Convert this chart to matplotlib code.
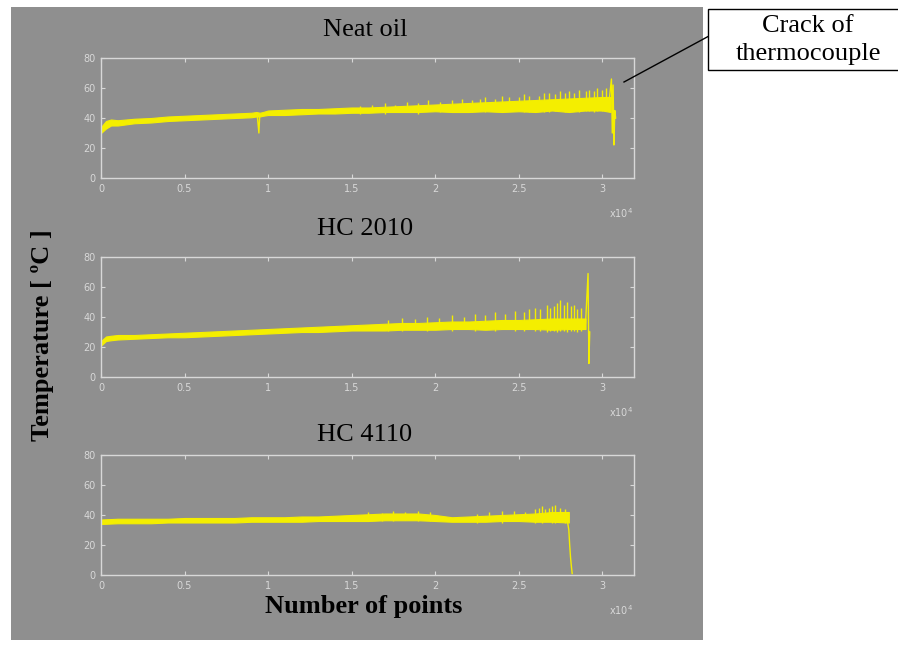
import matplotlib
matplotlib.use("Agg")
import matplotlib.pyplot as plt
from matplotlib.patches import Rectangle
from matplotlib.lines import Line2D

# x values are in units of 10^4 points
titles = ["Neat oil", "HC 2010", "HC 4110"]
xticks = [0, 0.5, 1, 1.5, 2, 2.5, 3]
xticklabels = ["0", "0.5", "1", "1.5", "2", "2.5", "3"]
yticks = [0, 20, 40, 60, 80]

# Neat oil: core band
x1 = [0, 0.03, 0.06, 0.1, 0.2, 0.3, 0.4, 0.5, 0.6, 0.7, 0.8, 0.9, 0.93, 0.95, 0.97,
      1.0, 1.1, 1.2, 1.3, 1.4, 1.5, 1.6, 1.7, 1.8, 1.9, 2.0, 2.1, 2.2, 2.3, 2.4,
      2.5, 2.6, 2.7, 2.8, 2.9, 3.0, 3.05]
lo1 = [30, 33, 35, 35, 36.5, 37, 38, 38.5, 39, 39.5, 40, 40.5, 41, 41, 41.5,
       42, 42, 42.5, 43, 43, 43.5, 43.5, 44, 44, 44, 44.5, 44, 44, 44.5, 44,
       44.5, 44, 45, 44, 45, 45, 44]
hi1 = [34, 38, 39, 38.5, 39.5, 40, 41, 41.5, 42, 42.5, 43, 43.5, 44, 43.5, 44,
       45, 45.5, 46, 46, 46.5, 47, 47, 47.5, 48, 48.5, 49, 49.5, 50, 50.5, 51,
       51.5, 52, 52.5, 53, 53.5, 54, 54]
hair_x1 = [1.55, 1.62, 1.7, 1.76, 1.83, 1.9, 1.96, 2.03, 2.1, 2.16, 2.22, 2.27,
           2.3, 2.36, 2.4, 2.44, 2.5, 2.53, 2.56, 2.62, 2.65, 2.68, 2.72, 2.75,
           2.78, 2.8, 2.83, 2.86, 2.9, 2.92, 2.95, 2.97, 3.0, 3.02]
hair_lo1 = [43, 44, 43, 44, 44, 43, 45, 44, 44, 45, 44, 45,
            44, 45, 44, 45, 45, 44, 44, 45, 44, 44, 45, 45,
            44, 45, 45, 44, 45, 45, 44, 45, 45, 45]
hair_top1 = [48, 49, 50, 49, 51, 50, 52, 51, 52, 53, 52, 53,
             54, 53, 55, 54, 54, 56, 55, 55, 57, 57, 56, 58,
             57, 58, 57, 59, 58, 59, 58, 60, 59, 60]
dip_x1 = [0.935, 0.945, 0.95]
dip_y1 = [42, 30, 42]
end_x1 = [3.04, 3.055, 3.06, 3.065, 3.07, 3.075, 3.08]
end_y1 = [50, 66, 30, 62, 22, 45, 40]

# HC 2010
x2 = [0, 0.03, 0.06, 0.1, 0.2, 0.3, 0.4, 0.5, 0.6, 0.7, 0.8, 0.9, 1.0, 1.1, 1.2, 1.3,
      1.4, 1.5, 1.6, 1.7, 1.8, 1.9, 2.0, 2.1, 2.2, 2.3, 2.4, 2.5, 2.6, 2.7, 2.8, 2.9]
lo2 = [21, 24, 24.5, 25, 25.5, 26, 26.5, 26.5, 27, 27.5, 28, 28.5, 29, 29.5, 30, 30,
       30.5, 31, 31, 31, 31.5, 31.5, 31.5, 32, 32, 31.5, 32, 32, 32, 31.5, 32, 32]
hi2 = [24, 27, 27.5, 28, 28, 28.5, 29, 29.5, 30, 30.5, 31, 31.5, 32, 32.5, 33, 33.5,
       34, 34.5, 35, 35.5, 36, 36, 36.5, 37, 37, 37.5, 38, 38, 38.5, 39, 39, 39]
hair_x2 = [1.72, 1.8, 1.88, 1.95, 2.02, 2.1, 2.17, 2.24, 2.3, 2.36, 2.42, 2.48,
           2.53, 2.56, 2.6, 2.63, 2.67, 2.69, 2.71, 2.73, 2.75, 2.77, 2.79,
           2.81, 2.83, 2.85, 2.87]
hair_lo2 = [31, 31, 32, 31, 32, 31, 32, 31, 32, 31, 32, 31,
            31, 32, 31, 31, 30, 31, 31, 30, 31, 31, 30, 31, 31, 30, 31]
hair_top2 = [38, 39, 38.5, 40, 39, 41, 40, 42, 41, 43, 42, 44,
             43, 45, 46, 45, 48, 46, 47, 49, 51, 48, 50, 47, 48, 45, 46]
end_x2 = [2.9, 2.915, 2.92, 2.925]
end_y2 = [36, 69, 9, 30]

# HC 4110
x3 = [0, 0.1, 0.2, 0.3, 0.4, 0.5, 0.6, 0.7, 0.8, 0.9, 1.0, 1.1, 1.2, 1.3, 1.4,
      1.5, 1.6, 1.7, 1.8, 1.9, 2.0, 2.1, 2.2, 2.3, 2.4, 2.5, 2.6, 2.7, 2.8]
lo3 = [34, 34.5, 34.5, 34.5, 35, 35, 35, 35, 35, 35.5, 35.5, 35.5, 35.5, 36, 36,
       36, 36, 36.5, 36.5, 36.5, 36, 35.5, 35.5, 35.5, 36, 36, 35.5, 35.5, 35]
hi3 = [37, 37.5, 37.5, 37.5, 37.5, 38, 38, 38, 38, 38.5, 38.5, 38.5, 39, 39, 39.5,
       40, 40.5, 41, 41, 41, 40, 38.5, 39, 39.5, 40, 40.5, 41, 42, 42]
hair_x3 = [1.6, 1.68, 1.75, 1.82, 1.9, 1.97, 2.25, 2.32, 2.4, 2.47, 2.54, 2.6,
           2.62, 2.64, 2.66, 2.68, 2.7, 2.72, 2.75, 2.78]
hair_lo3 = [36, 36, 36, 37, 36, 36, 35, 36, 35, 36, 36, 35, 36, 35, 36, 36,
            35, 35, 36, 35]
hair_top3 = [42, 41.5, 42.5, 42, 43, 42, 41, 42, 42.5, 43, 42, 44, 45, 46,
             44, 45, 46, 47, 45, 44]
end_x3 = [2.79, 2.8, 2.805, 2.81, 2.815, 2.82]
end_y3 = [37, 30, 20, 12, 6, 1]

series = [
    (x1, lo1, hi1, hair_x1, hair_lo1, hair_top1, end_x1, end_y1),
    (x2, lo2, hi2, hair_x2, hair_lo2, hair_top2, end_x2, end_y2),
    (x3, lo3, hi3, hair_x3, hair_lo3, hair_top3, end_x3, end_y3),
]

W, H = 898, 646
yellow = "#f4ee00"
bg = "#8f8f8f"
light = "#d8d8d8"
serif = "Liberation Serif"


def fx(x):
    return x / W


def fy(y):
    return 1 - y / H


fig = plt.figure(figsize=(W / 100, H / 100), dpi=100, facecolor="white")
fig.patches.append(Rectangle((fx(11), fy(640)), fx(703) - fx(11), fy(7) - fy(640),
                             transform=fig.transFigure, facecolor=bg,
                             edgecolor="none", zorder=-5))

tops = [58, 257, 455]
title_y = [30, 229, 435]
left, right, h = 101, 634, 120

for i, (x, lo, hi, hx, hlo, htop, ex, ey) in enumerate(series):
    top = tops[i]
    ax = fig.add_axes([fx(left), fy(top + h), fx(right - left), h / H])
    ax.set_facecolor(bg)
    ax.fill_between(x, lo, hi, color=yellow, linewidth=0.8, edgecolor=yellow)
    ax.vlines(hx, hlo, htop, color=yellow, linewidth=1.0)
    ax.plot(ex, ey, color=yellow, linewidth=1.0)
    if i == 0:
        ax.plot(dip_x1, dip_y1, color=yellow, linewidth=1.0)
    ax.set_xlim(0, 3.19)
    ax.set_ylim(0, 80)
    ax.set_xticks(xticks)
    ax.set_xticklabels(xticklabels)
    ax.set_yticks(yticks)
    ax.tick_params(direction="in", top=True, right=True, length=3,
                   color=light, labelcolor=light, labelsize=7, pad=4)
    for s in ax.spines.values():
        s.set_color(light)
        s.set_linewidth(1.0)
    ax.text(0.975, -0.29, r"x10$^4$", transform=ax.transAxes, color=light,
            fontsize=7, ha="center", va="center")
    fig.text(fx(365), fy(title_y[i]), titles[i], fontsize=19, family=serif,
             ha="center", va="center")

fig.text(fx(43), fy(335), "Temperature [ ºC ]", rotation=90, fontsize=19,
         family=serif, fontweight="bold", ha="center", va="center")
fig.text(fx(364), fy(607), "Number of points", fontsize=19,
         family=serif, fontweight="bold", ha="center", va="center")

# callout
fig.patches.append(Rectangle((fx(708), fy(70)), fx(200), fy(9) - fy(70),
                             transform=fig.transFigure, facecolor="white",
                             edgecolor="black", linewidth=1.0, zorder=3))
fig.lines.append(Line2D([fx(624), fx(709)], [fy(82), fy(36)],
                        transform=fig.transFigure, color="black", linewidth=1.0))
fig.text(fx(808), fy(26), "Crack of", fontsize=19, family=serif,
         ha="center", va="center", zorder=4)
fig.text(fx(808), fy(54), "thermocouple", fontsize=19, family=serif,
         ha="center", va="center", zorder=4)

fig.savefig("out.png", dpi=100, facecolor="white")
